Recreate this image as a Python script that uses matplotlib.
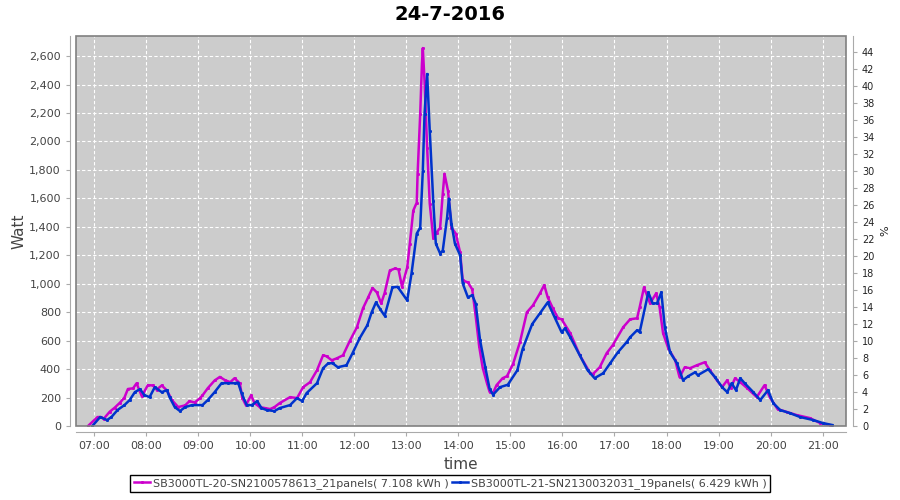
import matplotlib
matplotlib.use("Agg")
import matplotlib.pyplot as plt
import matplotlib.dates as mdates
from matplotlib.patches import Rectangle
import pandas as pd

title = "24-7-2016"
series1_label = "SB3000TL-20-SN2100578613_21panels( 7.108 kWh )"
series2_label = "SB3000TL-21-SN2130032031_19panels( 6.429 kWh )"

s1_time = ["06:53", "07:04", "07:08", "07:11", "07:18", "07:24", "07:30", "07:35", "07:39", "07:45",
           "07:49", "07:55", "08:02", "08:08", "08:12", "08:18", "08:24", "08:30", "08:37", "08:45",
           "08:50", "08:56", "09:02", "09:05", "09:11", "09:19", "09:25", "09:31", "09:37", "09:42",
           "09:48", "09:51", "09:55", "10:01", "10:05", "10:11", "10:17", "10:23", "10:28", "10:34",
           "10:46", "10:54", "11:01", "11:09", "11:17", "11:24", "11:28", "11:34", "11:40", "11:47",
           "11:55", "12:03", "12:10", "12:16", "12:21", "12:26", "12:31", "12:35", "12:41", "12:47",
           "12:51", "12:55", "13:01", "13:04", "13:08", "13:12", "13:13", "13:16", "13:18", "13:19",
           "13:21", "13:24", "13:27", "13:31", "13:35", "13:39", "13:42", "13:44", "13:48", "13:52",
           "13:57", "14:02", "14:05", "14:11", "14:16", "14:20", "14:24", "14:28", "14:33", "14:36",
           "14:40", "14:44", "14:51", "14:56", "15:03", "15:11", "15:19", "15:26", "15:34", "15:39",
           "15:43", "15:49", "15:55", "15:59", "16:09", "16:20", "16:32", "16:35", "16:43", "16:51",
           "16:58", "17:10", "17:18", "17:26", "17:29", "17:34", "17:41", "17:48", "17:52", "17:56",
           "18:02", "18:10", "18:15", "18:21", "18:27", "18:35", "18:44", "18:50", "18:58", "19:04",
           "19:10", "19:14", "19:19", "19:25", "19:33", "19:44", "19:53", "19:59", "20:08", "20:19",
           "20:30", "20:45", "20:57", "21:08"]
s1_watt = [0, 63, 63, 50, 100, 130, 165, 200, 260, 265,
           300, 210, 287, 285, 255, 285, 250, 180, 133, 145,
           175, 165, 195, 215, 265, 320, 345, 322, 308, 336,
           300, 196, 147, 215, 161, 133, 126, 119, 133, 161,
           203, 196, 273, 308, 392, 497, 490, 462, 476, 497,
           600, 694, 827, 904, 970, 939, 862, 935, 1093, 1107,
           1100, 980, 1114, 1282, 1514, 1570, 1773, 2193, 2544, 2656,
           2425, 1955, 1563, 1324, 1359, 1395, 1633, 1773, 1654, 1395,
           1352, 1220, 1023, 1009, 960, 770, 560, 410, 300, 240,
           232, 287, 336, 350, 435, 590, 799, 848, 932, 990,
           904, 827, 757, 750, 652, 497, 371, 364, 413, 512,
           568, 694, 750, 757, 834, 974, 862, 932, 834, 652,
           547, 462, 343, 413, 406, 427, 448, 392, 322, 273,
           322, 266, 336, 308, 266, 203, 287, 203, 119, 98,
           77, 56, 21, 7]

s2_time = ["06:58", "07:07", "07:15", "07:20", "07:27", "07:35", "07:41", "07:47", "07:53", "07:58",
           "08:04", "08:10", "08:18", "08:24", "08:27", "08:33", "08:39", "08:45", "08:53", "09:05",
           "09:11", "09:19", "09:27", "09:34", "09:42", "09:46", "09:50", "09:56", "10:02", "10:08",
           "10:13", "10:19", "10:28", "10:34", "10:46", "10:54", "11:00", "11:05", "11:17", "11:24",
           "11:30", "11:35", "11:41", "11:51", "11:58", "12:06", "12:15", "12:20", "12:25", "12:30",
           "12:35", "12:44", "12:50", "13:01", "13:06", "13:12", "13:16", "13:19", "13:21", "13:24",
           "13:27", "13:31", "13:34", "13:39", "13:42", "13:47", "13:49", "13:52", "13:56", "14:02",
           "14:05", "14:11", "14:16", "14:20", "14:25", "14:31", "14:36", "14:40", "14:48", "14:57",
           "15:08", "15:14", "15:25", "15:34", "15:43", "15:51", "15:59", "16:03", "16:09", "16:20",
           "16:29", "16:37", "16:47", "16:55", "17:04", "17:14", "17:18", "17:26", "17:29", "17:39",
           "17:44", "17:49", "17:54", "17:58", "18:04", "18:12", "18:19", "18:25", "18:33", "18:36",
           "18:48", "18:56", "19:04", "19:10", "19:15", "19:20", "19:25", "19:30", "19:40", "19:48",
           "19:57", "20:03", "20:11", "20:22", "20:34", "20:49", "21:00", "21:11"]
s2_watt = [0, 63, 42, 63, 112, 147, 182, 238, 259, 217,
           203, 273, 238, 252, 203, 133, 105, 133, 147, 147,
           182, 238, 301, 301, 301, 305, 231, 147, 147, 175,
           126, 112, 105, 126, 147, 196, 175, 231, 301, 406,
           441, 441, 413, 427, 512, 615, 708, 799, 869, 820,
           775, 974, 978, 883, 1072, 1352, 1395, 1794, 2193, 2474,
           2074, 1584, 1282, 1212, 1233, 1465, 1598, 1423, 1282, 1200,
           1002, 904, 920, 860, 603, 413, 262, 220, 273, 290,
           392, 540, 715, 792, 869, 764, 659, 687, 624, 497,
           392, 336, 371, 441, 519, 589, 624, 673, 659, 939,
           862, 862, 939, 694, 519, 441, 322, 350, 378, 357,
           399, 343, 273, 238, 301, 252, 336, 301, 238, 182,
           252, 161, 112, 91, 63, 42, 21, 7]

day = "2016-07-24 "
t1 = pd.to_datetime([day + t for t in s1_time])
t2 = pd.to_datetime([day + t for t in s2_time])

c1 = "#cc00cc"
c2 = "#0033cc"
txt = "#444444"

fig = plt.figure(figsize=(9, 5), dpi=100, facecolor="white")
ax = fig.add_axes([0.0839, 0.148, 0.8561, 0.7806])
ax.set_facecolor("#cccccc")

ax.plot(t1, s1_watt, color=c1, lw=1.8, marker="s", ms=1.1, label=series1_label, zorder=3)
ax.plot(t2, s2_watt, color=c2, lw=1.8, marker="s", ms=1.1, label=series2_label, zorder=3)

ax.set_xlim(pd.Timestamp(day + "06:38:36"), pd.Timestamp(day + "21:26:54"))
ax.set_ylim(0, 2743)
ax.set_yticks(range(0, 2601, 200))
ax.yaxis.set_major_formatter(matplotlib.ticker.FuncFormatter(lambda v, p: f"{int(v):,}"))
ax.xaxis.set_major_locator(mdates.HourLocator())
ax.xaxis.set_major_formatter(mdates.DateFormatter("%H:%M"))

ax.grid(True, color="white", ls=(0, (3, 2)), lw=0.8)
ax.set_axisbelow(True)

for s in ["top", "right"]:
    ax.spines[s].set_visible(False)
for s in ["left", "bottom"]:
    ax.spines[s].set_position(("outward", 4))
    ax.spines[s].set_color("#aaaaaa")
ax.tick_params(axis="both", colors="#aaaaaa", labelcolor=txt, labelsize=8, length=3, direction="out")

ax.add_patch(Rectangle((0, 0), 1, 1, transform=ax.transAxes, fill=False,
                       edgecolor="#808080", lw=1.2, clip_on=False, zorder=5))

ax2 = ax.twinx()
ax2.set_ylim(0, 45.9)
ax2.set_yticks(range(0, 45, 2))
for s in ["top", "left", "bottom"]:
    ax2.spines[s].set_visible(False)
ax2.spines["right"].set_position(("outward", 5))
ax2.spines["right"].set_color("#aaaaaa")
ax2.tick_params(axis="y", colors="#aaaaaa", labelcolor="#222222", labelsize=7, length=3)
ax2.set_ylabel("%", color="#222222", fontsize=8)
ax2.yaxis.set_label_coords(1.044, 0.5)

ax.set_ylabel("Watt", color=txt, fontsize=11)
ax.yaxis.set_label_coords(-0.064, 0.5)
ax.set_xlabel("time", color=txt, fontsize=11)
ax.xaxis.set_label_coords(0.5, -0.08)

fig.text(0.5, 0.972, title, ha="center", va="center", fontsize=14, fontweight="bold", color="black")

leg = fig.legend(loc="lower center", bbox_to_anchor=(0.5, 0.004), ncol=2, fontsize=8,
                 frameon=True, fancybox=False, edgecolor="black", framealpha=1,
                 handlelength=1.5, handletextpad=0.2, columnspacing=0.3, borderpad=0.3,
                 labelcolor=txt)
leg.get_frame().set_linewidth(1.0)

fig.savefig("out.png", dpi=100)
